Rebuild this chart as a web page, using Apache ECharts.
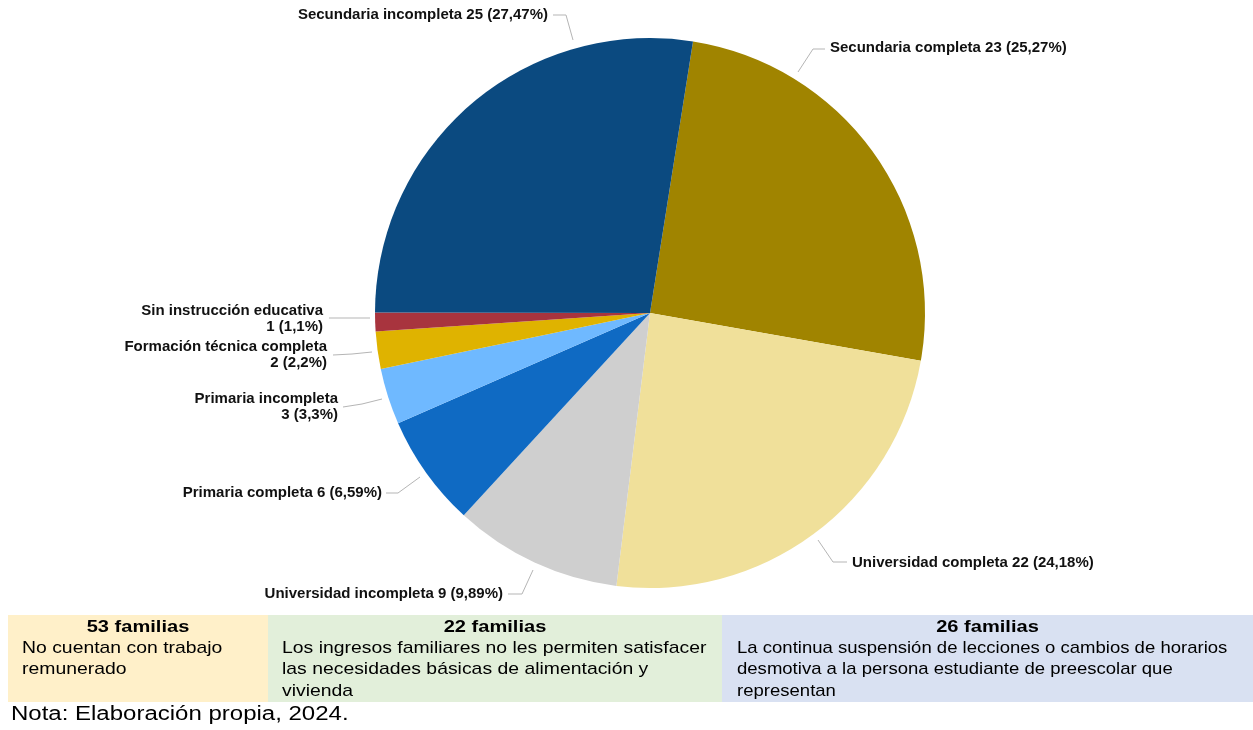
<!DOCTYPE html>
<html>
<head>
<meta charset="utf-8">
<script src="https://cdn.jsdelivr.net/npm/echarts@6/dist/echarts.min.js"></script>
<style>
  html, body { margin: 0; padding: 0; background: #ffffff; }
  #chart { width: 1253px; height: 730px; }
</style>
</head>
<body>
<div id="chart"></div>
<script>
// Education level of the families (clockwise from the top)
const categories = [
  'Secundaria completa',
  'Universidad completa',
  'Universidad incompleta',
  'Primaria completa',
  'Primaria incompleta',
  'Formación técnica completa',
  'Sin instrucción educativa',
  'Secundaria incompleta'
];
const counts = [23, 22, 9, 6, 3, 2, 1, 25];
const percentLabels = ['25,27%', '24,18%', '9,89%', '6,59%', '3,3%', '2,2%', '1,1%', '27,47%'];
const sliceColors = ['#A08400', '#F0E09A', '#CFCFCF', '#0F6AC3', '#6FB9FF', '#DFB300', '#A8343E', '#0B4A80'];

// Reasons reported by the families (bottom table)
const reasonCounts = ['53 familias', '22 familias', '26 familias'];
const reasonLines = [
  ['No cuentan con trabajo', 'remunerado'],
  ['Los ingresos familiares no les permiten satisfacer', 'las necesidades básicas de alimentación y', 'vivienda'],
  ['La continua suspensión de lecciones o cambios de horarios', 'desmotiva a la persona estudiante de preescolar que', 'representan']
];
const noteText = 'Nota: Elaboración propia, 2024.';

// Label placement around the pie: text anchor [x, y, align] and leader line points
const labelSpots = [
  [830, 48, 'left'],
  [852, 563, 'left'],
  [503, 594, 'right'],
  [382, 493, 'right'],
  [338, 407, 'right'],
  [327, 355, 'right'],
  [323, 319, 'right'],
  [548, 15, 'right']
];
const leaderLines = [
  [[798, 72], [813, 49], [825, 49]],
  [[818, 540], [833, 562], [847, 562]],
  [[533, 570], [522, 594], [508, 594]],
  [[420, 477], [398, 493], [386, 493]],
  [[382, 399], [362, 404], [343, 407]],
  [[372, 352], [352, 354], [333, 355]],
  [[370, 318], [350, 318], [329, 318]],
  [[573, 40], [566, 15], [553, 15]]
];
const twoLineLabels = [4, 5, 6];

const chart = echarts.init(document.getElementById('chart'), null, { renderer: 'canvas' });

const boxes = [
  { x: 8, w: 260, fill: '#FFF0C9', textX: 22, stretch: 1.14 },
  { x: 268, w: 454, fill: '#E2EFDA', textX: 282, stretch: 1.14 },
  { x: 722, w: 531, fill: '#D9E1F2', textX: 737, stretch: 1.09 }
];
const boxTop = 615, boxH = 87;
const graphics = [];
boxes.forEach((b, i) => {
  graphics.push({
    type: 'rect', silent: true,
    shape: { x: b.x, y: boxTop, width: b.w, height: boxH },
    style: { fill: b.fill }
  });
  graphics.push({
    type: 'text', silent: true,
    x: b.x + b.w / 2, y: 627, scaleX: 1.18,
    style: {
      text: reasonCounts[i], fill: '#000', align: 'center', verticalAlign: 'middle',
      font: 'bold 17px "Liberation Sans", Arial, sans-serif'
    }
  });
  reasonLines[i].forEach((line, j) => {
    graphics.push({
      type: 'text', silent: true,
      x: b.textX, y: 648 + j * 21.5, scaleX: b.stretch,
      style: {
        text: line, fill: '#000', align: 'left', verticalAlign: 'middle',
        font: '17px "Liberation Sans", Arial, sans-serif'
      }
    });
  });
});
graphics.push({
  type: 'text', silent: true,
  x: 11, y: 714, scaleX: 1.2,
  style: {
    text: noteText, fill: '#000', align: 'left', verticalAlign: 'middle',
    font: '20px "Liberation Sans", Arial, sans-serif'
  }
});

chart.setOption({
  animation: false,
  backgroundColor: '#ffffff',
  graphic: graphics,
  series: [{
    type: 'pie',
    center: [650, 313],
    radius: 275,
    startAngle: 81,
    clockwise: true,
    avoidLabelOverlap: false,
    itemStyle: { borderWidth: 0 },
    emphasis: { disabled: true },
    data: categories.map((name, i) => ({
      name: name,
      value: counts[i],
      itemStyle: { color: sliceColors[i] }
    })),
    label: {
      show: true,
      color: '#111',
      fontFamily: '"Liberation Sans", Arial, sans-serif',
      fontWeight: 'bold',
      fontSize: 15,
      lineHeight: 16,
      formatter: p => {
        const i = p.dataIndex;
        const tail = counts[i] + ' (' + percentLabels[i] + ')';
        return twoLineLabels.includes(i) ? p.name + '\n' + tail : p.name + ' ' + tail;
      }
    },
    labelLine: {
      show: true,
      length: 15,
      length2: 12,
      lineStyle: { color: '#B5B5B5', width: 1 }
    },
    labelLayout: params => {
      const i = params.dataIndex;
      const s = labelSpots[i];
      return {
        x: s[0], y: s[1], align: s[2], verticalAlign: 'middle',
        labelLinePoints: leaderLines[i]
      };
    }
  }]
});
</script>
</body>
</html>
